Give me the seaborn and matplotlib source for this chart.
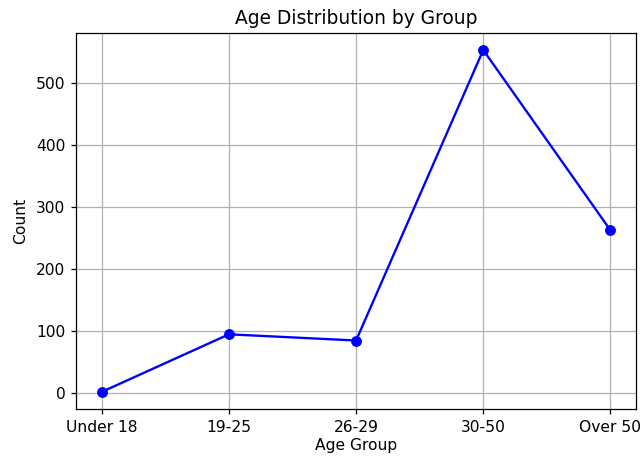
import pandas as pd
import seaborn as sns
import matplotlib.pyplot as plt

# Age groups and their counts
age_groups = ["Under 18", "19-25", "26-29", "30-50", "Over 50"]
counts = [2, 95, 85, 554, 263]

df = pd.DataFrame({"Age Group": age_groups, "Count": counts})

# reference looks like default style rendered at ~112 dpi
fig, ax = plt.subplots(figsize=(641 / 112, 457 / 112), dpi=112)

sns.lineplot(
    data=df,
    x="Age Group",
    y="Count",
    marker="o",
    markersize=7,
    markeredgewidth=0,
    color="blue",
    sort=False,
    ax=ax,
)

ax.set_title("Age Distribution by Group")
ax.set_xlabel("Age Group", labelpad=2)
ax.set_ylabel("Count", labelpad=5)
ax.grid(True)

plt.subplots_adjust(left=0.119, right=0.992, top=0.928, bottom=0.105)

plt.savefig("out.png", dpi=112)
